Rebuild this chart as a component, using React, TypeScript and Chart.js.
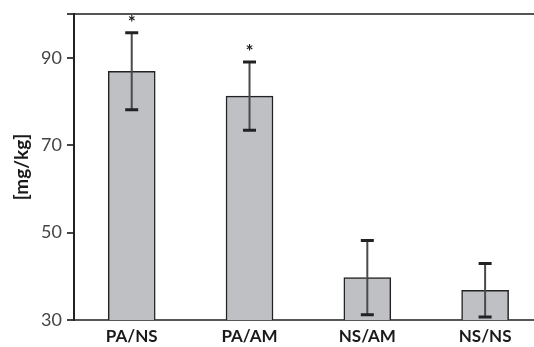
import React, { useEffect, useRef } from "react";
import { Chart, registerables } from "chart.js";

Chart.register(...registerables);

const categories = ["PA/NS", "PA/AM", "NS/AM", "NS/NS"];
const means = [86.9, 81.2, 39.7, 36.8];
const errors = [8.8, 7.8, 8.5, 6.1];
const marks = ["*", "*", "", ""];
const yTicks = [30, 50, 70, 90];
const yMin = 30;
const yMax = 100;

const errorBarPlugin = {
  id: "errorBars",
  afterDatasetsDraw(chart: any) {
    const { ctx, scales } = chart;
    const xs = scales.x;
    const ys = scales.y;
    ctx.save();
    means.forEach((m, i) => {
      const x = xs.getPixelForValue(i);
      const top = ys.getPixelForValue(m + errors[i]);
      const bot = ys.getPixelForValue(m - errors[i]);
      ctx.strokeStyle = "#4a4a4a";
      ctx.lineWidth = 2;
      ctx.beginPath();
      ctx.moveTo(x, top);
      ctx.lineTo(x, bot);
      ctx.stroke();
      ctx.strokeStyle = "#222";
      ctx.lineWidth = 3;
      ctx.beginPath();
      ctx.moveTo(x - 6.5, top);
      ctx.lineTo(x + 6.5, top);
      ctx.moveTo(x - 6.5, bot);
      ctx.lineTo(x + 6.5, bot);
      ctx.stroke();
      if (marks[i]) {
        ctx.fillStyle = "#222";
        ctx.font = "bold 19px Lato";
        ctx.textAlign = "center";
        ctx.textBaseline = "middle";
        ctx.fillText(marks[i], x, top - 10);
      }
    });
    ctx.restore();
  },
};

export default function App() {
  const ref = useRef<HTMLCanvasElement | null>(null);
  useEffect(() => {
    if (!ref.current) return;
    const chart = new Chart(ref.current, {
      type: "bar",
      data: {
        datasets: [
          {
            data: means.map((v, i) => ({ x: i, y: v })),
            backgroundColor: "#bfc0c4",
            borderColor: "#222",
            borderWidth: 1.5,
            barThickness: 47,
          },
        ],
      },
      options: {
        responsive: false,
        animation: false,
        layout: { padding: { top: 14, right: 0, left: 0, bottom: 0 } },
        plugins: { legend: { display: false }, tooltip: { enabled: false } },
        scales: {
          x: {
            type: "linear",
            offset: false,
            min: -0.49,
            max: 3.415,
            afterBuildTicks: (s: any) => {
              s.ticks = categories.map((_, i) => ({ value: i }));
            },
            afterFit: (s: any) => {
              s.height = 27;
              s.paddingLeft = 0;
              s.paddingRight = 0;
            },
            grid: { display: false, drawTicks: false, offset: false },
            border: { display: true, color: "#555", width: 2 },
            ticks: {
              padding: 6,
              color: "#1a1a1a",
              font: { family: "Lato", size: 17, weight: "bold" },
              callback: (v: any) => categories[v] ?? "",
              maxRotation: 0,
              autoSkip: false,
            },
          },
          y: {
            min: yMin,
            max: yMax,
            afterBuildTicks: (s: any) => {
              s.ticks = [...yTicks, yMax].map((v) => ({ value: v }));
            },
            afterFit: (s: any) => {
              s.width = 74;
              s.paddingTop = 0;
              s.paddingBottom = 0;
            },
            grid: {
              color: (c: any) => (c.tick && c.tick.value === yMax ? "#555" : "transparent"),
              lineWidth: 2,
              tickColor: "#444",
              tickLength: 7,
            },
            border: { display: true, color: "#222", width: 2 },
            ticks: {
              padding: 5,
              color: "#444",
              font: { family: "Lato", size: 18 },
              callback: (v: any) => (v === yMax ? "" : String(v)),
            },
            title: {
              display: true,
              text: "[mg/kg]",
              color: "#1a1a1a",
              font: { family: "Lato", size: 19, weight: "bold" },
              padding: { top: 10, bottom: 0 },
            },
          },
        },
      },
      plugins: [errorBarPlugin],
    });
    return () => chart.destroy();
  }, []);
  return (
    <div style={{ position: "absolute", left: 0, top: 0, width: 534, height: 347, background: "#fff" }}>
      <canvas ref={ref} width={534} height={347} style={{ display: "block" }} />
    </div>
  );
}
